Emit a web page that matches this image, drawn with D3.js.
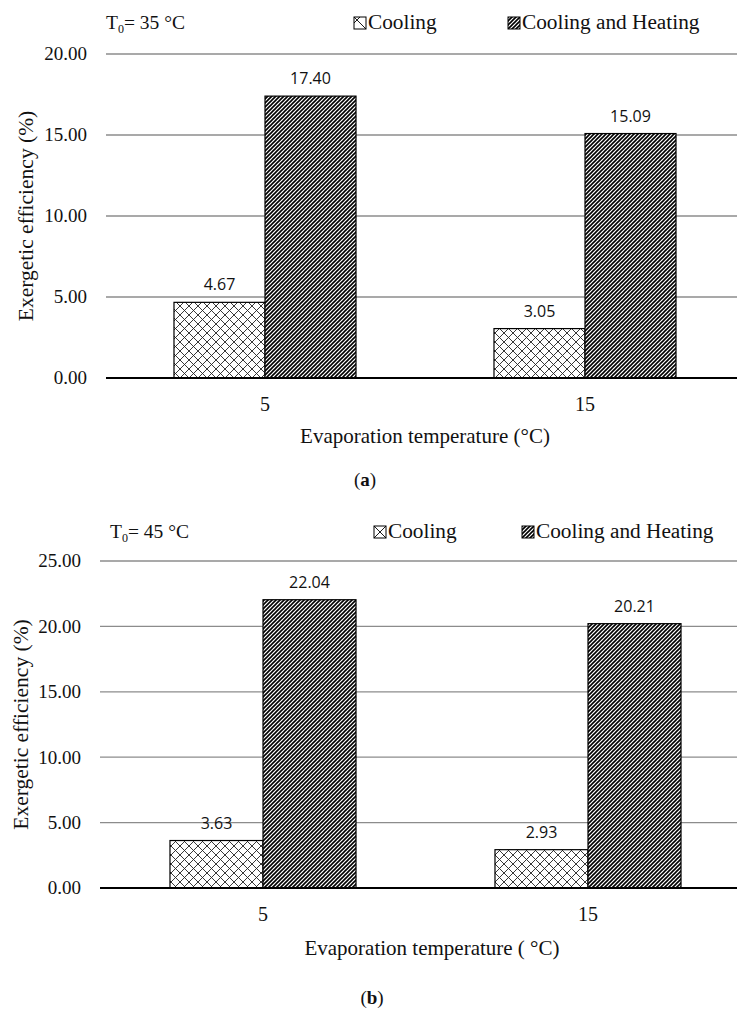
<!DOCTYPE html>
<html>
<head>
<meta charset="utf-8">
<script src="https://cdn.jsdelivr.net/npm/d3@7"></script>
<style>
  html, body { margin: 0; padding: 0; background: #fff; }
  svg { display: block; }
  .serif { font-family: "Liberation Serif", "DejaVu Serif", serif; }
  .sans { font-family: "Open Sans", "Noto Sans", sans-serif; }
</style>
</head>
<body>
<svg id="chart" width="737" height="1010"></svg>
<script>
// ---------- DATA ----------
const categories = ["5", "15"];
const seriesNames = ["Cooling", "Cooling and Heating"];

const coolingA = [4.67, 3.05];
const heatingA = [17.40, 15.09];
const ticksA = [0, 5, 10, 15, 20];

const coolingB = [3.63, 2.93];
const heatingB = [22.04, 20.21];
const ticksB = [0, 5, 10, 15, 20, 25];

const xTitleA = "Evaporation temperature (°C)";
const xTitleB = "Evaporation temperature ( °C)";
const yTitle = "Exergetic efficiency (%)";
const tempA = "35 °C";
const tempB = "45 °C";

// ---------- SETUP ----------
const svg = d3.select("#chart");

const defs = svg.append("defs");
const ph = defs.append("pattern").attr("id", "cross")
  .attr("patternUnits", "userSpaceOnUse").attr("width", 9).attr("height", 9);
ph.append("rect").attr("width", 9).attr("height", 9).attr("fill", "#fff");
ph.append("path").attr("d", "M0,0L9,9M0,9L9,0")
  .attr("stroke", "#222").attr("stroke-width", 0.9).attr("fill", "none");
const ps = defs.append("pattern").attr("id", "stripe")
  .attr("patternUnits", "userSpaceOnUse").attr("width", 4).attr("height", 4);
ps.append("rect").attr("width", 4).attr("height", 4).attr("fill", "#fff");
ps.append("path").attr("d", "M-1,1L1,-1M0,4L4,0M3,5L5,3")
  .attr("stroke", "#000").attr("stroke-width", 1.6).attr("fill", "none");

function drawChart(cfg) {
  const g = svg.append("g");
  const y = d3.scaleLinear().domain([0, d3.max(cfg.ticks)]).range([cfg.y0, cfg.yTop]);
  const x0 = d3.scaleBand().domain(categories).range(cfg.xRange).padding(0);
  const x1 = d3.scaleBand().domain(seriesNames).range([0, x0.bandwidth()])
    .paddingInner(0).paddingOuter(cfg.outerPad);

  g.append("g").selectAll("line").data(cfg.ticks.filter(t => t > 0)).join("line")
    .attr("x1", cfg.plotLeft).attr("x2", 737)
    .attr("y1", d => y(d)).attr("y2", d => y(d))
    .attr("stroke", "#8c8c8c").attr("stroke-width", 1.3);

  g.append("g").selectAll("text").data(cfg.ticks).join("text")
    .attr("class", "serif")
    .attr("x", cfg.tickRight).attr("y", d => y(d)).attr("dy", "0.34em")
    .attr("text-anchor", "end")
    .attr("font-size", 19).attr("fill", "#111")
    .text(d => d3.format(".2f")(d));

  const series = [
    { name: seriesNames[0], values: cfg.cooling, fill: "url(#cross)" },
    { name: seriesNames[1], values: cfg.heating, fill: "url(#stripe)" }
  ];
  const rows = [];
  series.forEach(s => s.values.forEach((v, i) => rows.push({ cat: categories[i], series: s.name, v, fill: s.fill })));

  g.append("g").selectAll("rect").data(rows).join("rect")
    .attr("x", d => x0(d.cat) + x1(d.series))
    .attr("width", x1.bandwidth())
    .attr("y", d => y(d.v))
    .attr("height", d => y(0) - y(d.v))
    .attr("fill", d => d.fill)
    .attr("stroke", "#000").attr("stroke-width", 1.2);

  g.append("g").selectAll("text").data(rows).join("text")
    .attr("class", "sans")
    .attr("x", d => x0(d.cat) + x1(d.series) + x1.bandwidth() / 2)
    .attr("y", d => y(d.v) - 12)
    .attr("text-anchor", "middle")
    .attr("font-size", 16).attr("fill", "#111")
    .text(d => d3.format(".2f")(d.v));

  g.append("line").attr("x1", cfg.plotLeft).attr("x2", 737)
    .attr("y1", y(0)).attr("y2", y(0))
    .attr("stroke", "#000").attr("stroke-width", 2);

  g.append("g").selectAll("text").data(categories).join("text")
    .attr("class", "serif")
    .attr("x", d => x0(d) + x0.bandwidth() / 2).attr("y", y(0) + 33)
    .attr("text-anchor", "middle")
    .attr("font-size", 20).attr("fill", "#111")
    .text(d => d);

  g.append("text").attr("class", "serif")
    .attr("x", cfg.xTitleX).attr("y", y(0) + cfg.xTitleDy)
    .attr("text-anchor", "middle")
    .attr("font-size", 21).attr("fill", "#111")
    .text(cfg.xTitle);

  g.append("text").attr("class", "serif")
    .attr("transform", `translate(${cfg.yTitleX},${(cfg.y0 + cfg.yTop) / 2}) rotate(-90)`)
    .attr("text-anchor", "middle")
    .attr("font-size", 21.5).attr("fill", "#111")
    .text(yTitle);

  const t = g.append("text").attr("class", "serif")
    .attr("x", cfg.headX).attr("y", cfg.headY)
    .attr("font-size", 19.5).attr("fill", "#111");
  t.append("tspan").text("T");
  t.append("tspan").attr("font-size", 12).attr("dy", 4).text("0");
  t.append("tspan").attr("dy", -4).text("= " + cfg.temp);

  cfg.legend.forEach((L, i) => {
    const lg = g.append("g").attr("transform", `translate(${L.x},${cfg.headY - 12})`);
    lg.append("rect").attr("width", 12).attr("height", 12)
      .attr("fill", i === 0 ? "#fff" : "url(#stripe)")
      .attr("stroke", "#000").attr("stroke-width", 1);
    if (i === 0) {
      lg.append("path").attr("d", cfg.crossIcon).attr("stroke", "#000")
        .attr("stroke-width", 0.9).attr("fill", "none");
    }
    lg.append("text").attr("class", "serif").attr("x", 14).attr("y", 12)
      .attr("font-size", 21.3).attr("fill", "#111")
      .text(seriesNames[i]);
  });

  const p = g.append("text").attr("class", "serif")
    .attr("x", cfg.panelX).attr("y", cfg.panelY)
    .attr("text-anchor", "middle")
    .attr("font-size", 19).attr("fill", "#111");
  p.append("tspan").text("(");
  p.append("tspan").attr("font-weight", "bold").text(cfg.panel);
  p.append("tspan").text(")");
}

drawChart({
  cooling: coolingA, heating: heatingA, ticks: ticksA,
  y0: 378, yTop: 54, xRange: [105, 745], outerPad: 0.758,
  plotLeft: 106, tickRight: 87, xTitle: xTitleA, xTitleX: 425, xTitleDy: 65,
  yTitleX: 33, headX: 106, headY: 29, temp: tempA,
  legend: [{ x: 354 }, { x: 508 }],
  crossIcon: "M0,0L12,12M0,6L6,0",
  panel: "a", panelX: 365, panelY: 486
});

drawChart({
  cooling: coolingB, heating: heatingB, ticks: ticksB,
  y0: 888, yTop: 561, xRange: [100.5, 750.5], outerPad: 0.747,
  plotLeft: 100, tickRight: 81, xTitle: xTitleB, xTitleX: 432, xTitleDy: 67,
  yTitleX: 28, headX: 110, headY: 538, temp: tempB,
  legend: [{ x: 374 }, { x: 522 }],
  crossIcon: "M0,0L12,12M0,12L12,0",
  panel: "b", panelX: 372, panelY: 1004
});
</script>
</body>
</html>
